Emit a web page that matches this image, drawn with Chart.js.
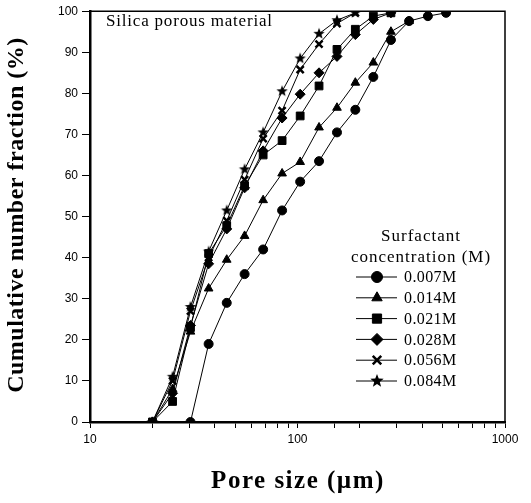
<!DOCTYPE html>
<html>
<head>
<meta charset="utf-8">
<script src="https://cdn.jsdelivr.net/npm/chart.js@4"></script>
<style>
  body { margin: 0; background: #fff; }
  canvas { display: block; }
</style>
</head>
<body>
<canvas id="chart" width="531" height="503"></canvas>
<script>
// pore sizes (um) shared by all curves
const poreSizes = [20, 25, 30.5, 37.3, 45.6, 55.6, 68.3, 84.3, 103, 127, 155, 190, 232, 282, 345, 425, 520];

const conc007 = [null, null, 0, 19, 29, 36, 42, 51.5, 58.5, 63.5, 70.5, 76, 84, 93, 97.6, 98.8, 99.6];
const conc014 = [0, 8, 22, 32.5, 39.5, 45.3, 54, 60.5, 63.3, 71.7, 76.5, 82.6, 87.5, 95, 97.6, null, null];
const conc021 = [0, 5, 23, 41, 47.8, 57.5, 65, 68.5, 74.5, 81.8, 90.7, 95.6, 98.8, 99.6, null, null, null];
const conc028 = [0, 7, 23.5, 38.5, 47, 57, 66, 74, 79.8, 85, 89, 94.3, 98, 99.6, null, null, null];
const conc056 = [0, 10, 27, 40, 49, 59, 69, 75.8, 85.8, 92, 97, 99.6, null, null, null, null, null];
const conc084 = [0, 11, 28, 41.5, 51.5, 61.5, 70.5, 80.5, 88.5, 94.5, 97.8, 99.6, null, null, null, null, null];

const seriesNames = ["0.007M", "0.014M", "0.021M", "0.028M", "0.056M", "0.084M"];
const xTickLabels = [10, 100, 1000];

// filled five point star used as a marker
function makeStar(r) {
  const c = document.createElement("canvas");
  c.width = c.height = r * 2 + 2;
  const g = c.getContext("2d");
  g.fillStyle = "#000";
  g.beginPath();
  for (let i = 0; i < 10; i++) {
    const rad = i % 2 === 0 ? r : r * 0.42;
    const a = -Math.PI / 2 + (i * Math.PI) / 5;
    const px = r + 1 + rad * Math.cos(a);
    const py = r + 1 + rad * Math.sin(a);
    if (i === 0) g.moveTo(px, py); else g.lineTo(px, py);
  }
  g.closePath();
  g.fill();
  return c;
}
const starImg = makeStar(6);
const starBig = makeStar(7);

function toPoints(ys) {
  const pts = [];
  ys.forEach((y, i) => { if (y !== null) pts.push({ x: poreSizes[i], y: y }); });
  return pts;
}

const markers = [
  { style: "circle", radius: 4.5, bw: 1 },
  { style: "triangle", radius: 5, bw: 1 },
  { style: "rect", radius: 5.5, bw: 1 },
  { style: "rectRot", radius: 5, bw: 1 },
  { style: "crossRot", radius: 5, bw: 2.5 },
  { style: starImg, radius: 6, bw: 1 },
];

const allSeries = [conc007, conc014, conc021, conc028, conc056, conc084];

const datasets = allSeries.map((ys, i) => ({
  label: seriesNames[i],
  data: toPoints(ys),
  borderColor: "#000",
  backgroundColor: "#000",
  borderWidth: 1,
  pointStyle: markers[i].style,
  pointRadius: markers[i].radius,
  pointBorderWidth: markers[i].bw,
  pointBackgroundColor: "#000",
  pointBorderColor: "#000",
  tension: 0,
}));

const serif = "'Liberation Serif', 'Times New Roman', serif";
const sans = "'Liberation Sans', Arial, sans-serif";

const extras = {
  id: "extras",
  afterDraw(chart) {
    const ctx = chart.ctx;
    const a = chart.chartArea;
    ctx.save();
    // top and right frame
    ctx.strokeStyle = "#000";
    ctx.lineWidth = 1.5;
    ctx.beginPath();
    ctx.moveTo(a.left, a.top);
    ctx.lineTo(a.right, a.top);
    ctx.lineTo(a.right, a.bottom);
    ctx.stroke();

    ctx.fillStyle = "#000";
    ctx.textBaseline = "middle";

    // axis titles
    ctx.font = "bold 25px " + serif;
    ctx.letterSpacing = "1.5px";
    ctx.textAlign = "center";
    ctx.fillText("Pore size (\u00b5m)", 298, 482);
    ctx.save();
    ctx.translate(17, 215);
    ctx.rotate(-Math.PI / 2);
    ctx.font = "bold 24px " + serif;
    ctx.letterSpacing = "0.5px";
    ctx.fillText("Cumulative number fraction (%)", 0, 0);
    ctx.restore();

    ctx.font = "17px " + serif;
    ctx.letterSpacing = "0.8px";
    ctx.textAlign = "left";
    ctx.fillText("Silica porous material", 106, 22);

    // legend
    ctx.textAlign = "center";
    ctx.font = "17px " + serif;
    ctx.letterSpacing = "1px";
    ctx.fillText("Surfactant", 421, 237);
    ctx.fillText("concentration (M)", 421, 258);
    ctx.textAlign = "left";
    ctx.font = "16px " + serif;
    ctx.letterSpacing = "0.4px";
    chart.data.datasets.forEach((ds, i) => {
      const y = 277 + i * 20.8;
      ctx.lineWidth = 1;
      ctx.beginPath();
      ctx.moveTo(356, y);
      ctx.lineTo(397, y);
      ctx.stroke();
      ctx.lineWidth = ds.pointBorderWidth;
      Chart.helpers.drawPoint(ctx, {
        pointStyle: ds.pointStyle === starImg ? starBig : ds.pointStyle,
        radius: ds.pointRadius + 1,
        rotation: 0,
        borderWidth: ds.pointBorderWidth,
      }, 377, y);
      ctx.fillText(ds.label, 404, y + 1);
    });
    ctx.restore();
  },
};

new Chart(document.getElementById("chart"), {
  type: "line",
  data: { datasets: datasets },
  options: {
    responsive: false,
    animation: false,
    layout: { padding: { left: 0, right: 26, top: 10, bottom: 0 } },
    plugins: { legend: { display: false }, tooltip: { enabled: false } },
    scales: {
      x: {
        type: "logarithmic",
        min: 10,
        max: 1000,
        afterFit: (s) => { s.height = 81; },
        grid: { drawOnChartArea: false, tickLength: 6, color: "#000", lineWidth: 1 },
        border: { color: "#000", width: 2.5 },
        ticks: {
          autoSkip: false,
          maxRotation: 0,
          padding: 4,
          color: "#000",
          font: { family: sans, size: 12 },
          callback: (v) => (xTickLabels.includes(v) ? String(v) : ""),
        },
      },
      y: {
        min: 0,
        max: 100,
        afterFit: (s) => { s.width = 90; },
        grid: { drawOnChartArea: false, tickLength: 8, color: "#000", lineWidth: 1 },
        border: { color: "#000", width: 2.5 },
        ticks: {
          stepSize: 10,
          padding: 4,
          color: "#000",
          font: { family: sans, size: 12 },
        },
      },
    },
  },
  plugins: [extras],
});
</script>
</body>
</html>
